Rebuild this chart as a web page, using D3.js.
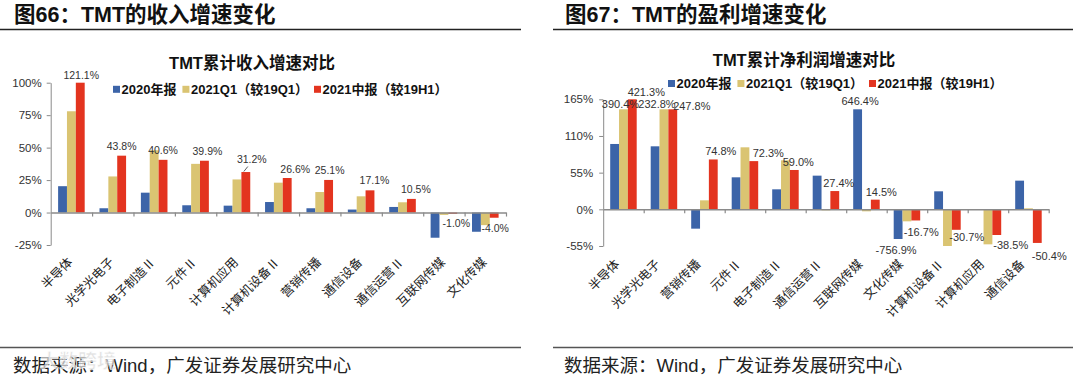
<!DOCTYPE html>
<html><head><meta charset="utf-8">
<script src="https://cdn.jsdelivr.net/npm/d3@7"></script>
<style>
html,body{margin:0;padding:0;background:#fff;}
svg{display:block;}
</style></head><body>
<svg id="c" width="1080" height="380"></svg>
<script>
// ---------------- DATA ----------------
const revCategories = ["半导体","光学光电子","电子制造Ⅱ","元件Ⅱ","计算机应用","计算机设备Ⅱ","营销传播","通信设备","通信运营Ⅱ","互联网传媒","文化传媒"];
const rev2020  = [20.3, 3.3, 15.3, 5.6, 5.3, 8.1, 3.3, 2.3, 4.3, -19.4, -14.8];
const rev21Q1  = [78.0, 27.8, 48.0, 37.5, 25.5, 23.0, 15.8, 12.5, 7.9, -1.8, -9.7];
const rev21H1  = [121.1, 43.8, 40.6, 39.9, 31.2, 26.6, 25.1, 17.1, 10.5, -1.0, -4.0];
const rev21H1Labels = ["121.1%","43.8%","40.6%","39.9%","31.2%","26.6%","25.1%","17.1%","10.5%","-1.0%","-4.0%"];
const revTicks = [-25, 0, 25, 50, 75, 100];

const profCategories = ["半导体","光学光电子","营销传播","元件Ⅱ","电子制造Ⅱ","通信运营Ⅱ","互联网传媒","文化传媒","计算机设备Ⅱ","计算机应用","通信设备"];
// plotted (capped) heights as drawn in the chart
const prof2020Shown = [98.0, 94.5, -29.0, 48.0, 30.0, 50.5, 150.0, -44.5, 27.0, 0.0, 43.0];
const prof21Q1Shown = [150.0, 150.0, 13.5, 93.0, 73.5, -1.5, -3.0, -18.0, -55.0, -52.5, 1.5];
const prof21H1Shown = [165.0, 150.0, 74.8, 72.3, 59.0, 27.4, 14.5, -16.7, -30.7, -38.5, -50.4];
const prof2020Labels = [null, null, null, null, null, null, "646.4%", "-756.9%", null, null, null];
const prof21Q1Labels = ["390.4%", "232.8%", null, null, null, null, null, null, null, null, null];
const prof21H1Labels = ["421.3%","247.8%","74.8%","72.3%","59.0%","27.4%","14.5%","-16.7%","-30.7%","-38.5%","-50.4%"];
const profTicks = [-55, 0, 55, 110, 165];

const seriesNames = ["2020年报", "2021Q1（较19Q1）", "2021中报（较19H1）"];

// ---------------- STYLE / LAYOUT ----------------
const colors = ["#3C64A8", "#DAC472", "#E3341F"];
const LAT = "'Liberation Sans', Arial, 'Noto Sans CJK SC', sans-serif";
const svg = d3.select("#c");

function header(x, text, l0, l1) {
  svg.append("text").attr("x", x).attr("y", 21.5)
    .attr("font-family", LAT).attr("font-weight", "bold").attr("font-size", 21.5)
    .attr("fill", "#111").text(text);
  svg.append("line").attr("x1", l0).attr("x2", l1).attr("y1", 29.5).attr("y2", 29.5)
    .attr("stroke", "#222").attr("stroke-width", 1.5);
  svg.append("line").attr("x1", l0).attr("x2", l1).attr("y1", 347.5).attr("y2", 347.5)
    .attr("stroke", "#555").attr("stroke-width", 1.5);
  svg.append("text").attr("x", x - 1).attr("y", 372)
    .attr("font-family", LAT).attr("font-size", 18.5).attr("fill", "#222")
    .text("数据来源：Wind，广发证券发展研究中心");
}

function panel(cfg) {
  const g = svg.append("g");
  const n = cfg.cats.length;
  const x = d3.scaleBand().domain(cfg.cats).range(cfg.xr);
  const bw = x.bandwidth();
  const xs = d3.scaleBand().domain([0, 1, 2]).range([cfg.pad, bw - cfg.pad]);
  const y = d3.scaleLinear().domain(cfg.yd).range(cfg.yr).clamp(true);

  // title
  g.append("text").attr("x", cfg.titleX).attr("y", cfg.titleY).attr("text-anchor", "middle")
    .attr("font-family", LAT).attr("font-weight", "bold").attr("font-size", 16.5)
    .attr("fill", "#111").text(cfg.title);

  // legend
  let lx = cfg.legX;
  seriesNames.forEach((s, i) => {
    g.append("rect").attr("x", lx).attr("y", cfg.legY - 3.5).attr("width", 7).attr("height", 7).attr("fill", colors[i]);
    const t = g.append("text").attr("x", lx + 8.5).attr("y", cfg.legY + 4.6)
      .attr("font-family", LAT).attr("font-weight", "bold").attr("font-size", 13)
      .attr("fill", "#111").text(s);
    lx += 8.5 + t.node().getComputedTextLength() + 6;
  });

  // bars
  const series = cfg.series;
  series.forEach((s, si) => {
    g.append("g").selectAll("rect").data(s).enter().append("rect")
      .attr("x", (d, i) => x(cfg.cats[i]) + xs(si))
      .attr("width", xs.bandwidth())
      .attr("y", d => y(Math.max(d, 0)))
      .attr("height", d => Math.abs(y(d) - y(0)))
      .attr("fill", colors[si]);
  });

  // y axis
  const ya = d3.axisLeft(y).tickValues(cfg.ticks).tickFormat(d => d + "%").tickSize(4).tickSizeOuter(0).tickPadding(cfg.tickPad);
  const yg = g.append("g").attr("transform", `translate(${cfg.xr[0]},0)`).call(ya);
  yg.select(".domain").attr("stroke", "#8a8a8a");
  yg.selectAll(".tick line").attr("stroke", "#8a8a8a");
  yg.selectAll("text").attr("font-family", LAT).attr("font-size", 11.5).attr("fill", "#333");

  // x axis at zero with category boundary ticks
  const xb = d3.scaleLinear().domain([0, n]).range(cfg.xr);
  const xa = d3.axisBottom(xb).tickValues(d3.range(1, n + 1)).tickSize(4).tickSizeOuter(0).tickFormat("");
  const xg = g.append("g").attr("transform", `translate(0,${y(0)})`).call(xa);
  xg.select(".domain").attr("stroke", "#8a8a8a").attr("stroke-width", 1.5);
  xg.selectAll(".tick line").attr("stroke", "#8a8a8a").attr("stroke-width", 1.2);

  // category labels
  g.append("g").selectAll("text").data(cfg.cats).enter().append("text")
    .attr("transform", d => `translate(${x(d) + bw / 2 + cfg.catDx},${cfg.catY}) rotate(-45)`)
    .attr("text-anchor", "end")
    .attr("font-family", "'Noto Sans CJK SC', sans-serif").attr("font-size", 12.5)
    .attr("fill", "#222").text(d => d);

  // value labels
  cfg.labels.forEach(([si, arr]) => {
    arr.forEach((txt, ci) => {
      if (!txt) return;
      const v = series[si][ci];
      const cx = x(cfg.cats[ci]) + xs(si) + xs.bandwidth() / 2;
      const nud = cfg.nudge[txt] || [0, 0];
      let tx, ty;
      if (v >= 0) { tx = cx + cfg.dxPos; ty = y(v) + cfg.dyPos; }
      else { tx = cx + cfg.dxNeg; ty = y(v) + cfg.dyNeg; }
      tx += nud[0]; ty += nud[1];
      if (cfg.leader && cfg.leader === txt) {
        g.append("line").attr("x1", cx - 2).attr("y1", y(v) - 0.5).attr("x2", cx + 2).attr("y2", y(v) - 5.5)
          .attr("stroke", "#333").attr("stroke-width", 0.8);
      }
      g.append("text").attr("x", tx).attr("y", ty).attr("text-anchor", "middle")
        .attr("font-family", LAT).attr("font-size", cfg.labelSize).attr("fill", "#333").text(txt);
    });
  });
}

header(14, "图66：TMT的收入增速变化", 0, 521);
header(565, "图67：TMT的盈利增速变化", 553, 1073);

panel({
  cats: revCategories, series: [rev2020, rev21Q1, rev21H1],
  xr: [50.7, 506], pad: 7.4, yd: [-25, 100], yr: [245, 82.7], ticks: revTicks, tickPad: 5,
  title: "TMT累计收入增速对比", titleX: 252, titleY: 69,
  legX: 113, legY: 89.3,
  catDx: 2, catY: 263,
  labels: [[2, rev21H1Labels]],
  labelSize: 10.5, dxPos: 0, dyPos: -6, dxNeg: 0, dyNeg: 13,
  leader: "31.2%",
  nudge: { "121.1%": [1, 2], "39.9%": [3, 0], "26.6%": [8, 1], "25.1%": [1, 0], "17.1%": [4.5, 0], "10.5%": [4.5, 0], "31.2%": [6, -3.5], "-1.0%": [3.5, 0], "-4.0%": [1, 1] }
});

panel({
  cats: profCategories, series: [prof2020Shown, prof21Q1Shown, prof21H1Shown],
  xr: [603.2, 1048.7], pad: 7, yd: [-55, 165], yr: [246, 99.3], ticks: profTicks, tickPad: 6,
  title: "TMT累计净利润增速对比", titleX: 804, titleY: 66,
  legX: 668, legY: 83.5,
  catDx: -3, catY: 265,
  labels: [[0, prof2020Labels], [1, prof21Q1Labels], [2, prof21H1Labels]],
  labelSize: 11, dxPos: 4, dyPos: -4, dxNeg: 9, dyNeg: 14,
  leader: null,
  nudge: { "390.4%": [-7, 2.5], "232.8%": [-11, 2.5], "247.8%": [15, 5], "421.3%": [10, 1], "74.8%": [3.5, 0], "72.3%": [10.5, 0], "14.5%": [2, 0], "646.4%": [-1.5, 0], "-756.9%": [-11, 1], "-16.7%": [-3.5, 2], "-30.7%": [1.5, -3], "-38.5%": [5, 0], "-50.4%": [3, 3] }
});

// faint watermark
svg.append("text").attr("x", 40).attr("y", 368).attr("font-family", "'Noto Sans CJK SC', sans-serif")
  .attr("font-size", 19).attr("font-weight", "bold").attr("fill", "#d8d8d8").attr("opacity", 0.75)
  .attr("stroke", "#fff").attr("stroke-width", 0.6).text("大数跨境");
</script>
</body></html>
